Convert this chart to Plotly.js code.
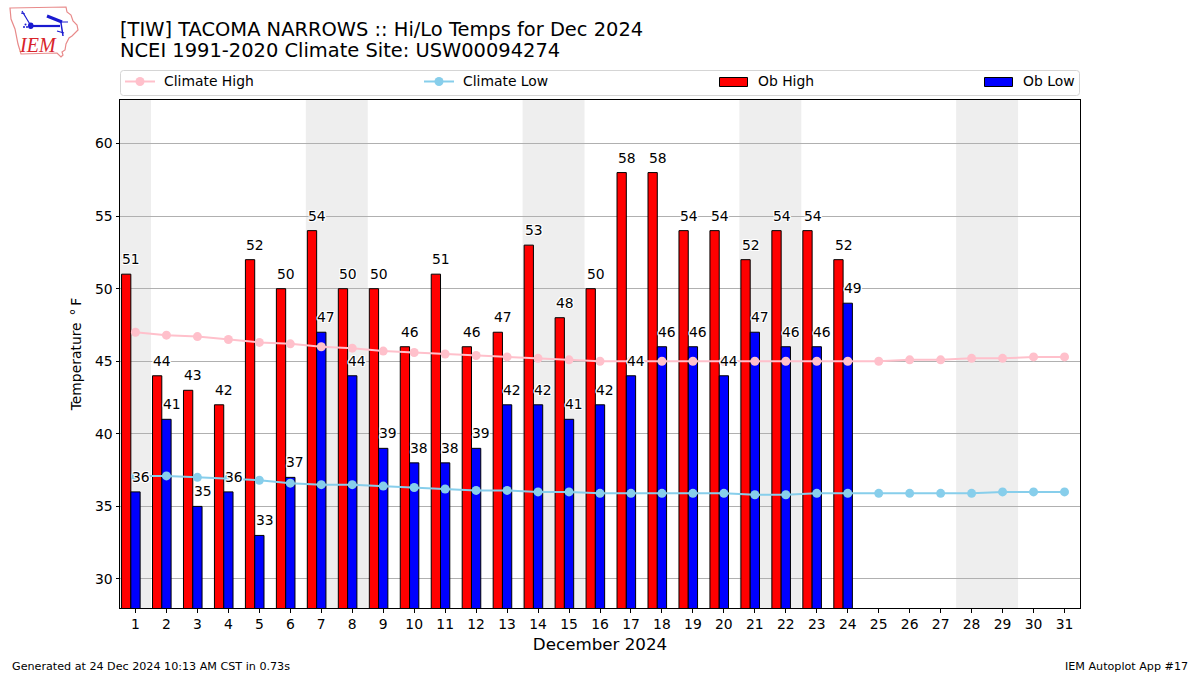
<!DOCTYPE html>
<html>
<head>
<meta charset="utf-8">
<script src="https://cdn.plot.ly/plotly-3.0.1.min.js"></script>
<style>html,body{margin:0;padding:0;background:#fff}</style>
</head>
<body>
<div id="chart" style="width:1200px;height:675px"></div>
<script>
const days = [1,2,3,4,5,6,7,8,9,10,11,12,13,14,15,16,17,18,19,20,21,22,23,24,25,26,27,28,29,30,31];
const obDays = days.slice(0,24);
const obHigh = [51,44,43,42,52,50,54,50,50,46,51,46,47,53,48,50,58,58,54,54,52,54,54,52];
const obLow  = [36,41,35,36,33,37,47,44,39,38,38,39,42,42,41,42,44,46,46,44,47,46,46,49];
const climateHigh = [47,46.8,46.7,46.5,46.3,46.2,46,45.9,45.7,45.6,45.5,45.4,45.3,45.2,45.1,45,45,45,45,45,45,45,45,45,45,45.1,45.1,45.2,45.2,45.3,45.3];
const climateLow  = [37.1,37.1,37,36.9,36.8,36.6,36.5,36.5,36.4,36.3,36.2,36.1,36.1,36,36,35.9,35.9,35.9,35.9,35.9,35.8,35.8,35.9,35.9,35.9,35.9,35.9,35.9,36,36,36];
const weekendBands = [[0.5,1.5],[6.5,8.5],[13.5,15.5],[20.5,22.5],[27.5,29.5]];
const yTicks = [30,35,40,45,50,55,60];

const W = 1200, H = 675;
const FONT = 'DejaVu Sans, sans-serif';
// paper coordinates: plot area spans x 120..1080, y 100..608
const X = x => (x - 120) / 960;
const Y = y => (608 - y) / 508;
const path = pts => pts.map((p,i) => (i ? 'L' : 'M') + X(p[0]).toFixed(5) + ',' + Y(p[1]).toFixed(5)).join(' ');

const halo = '-1px 0 0 #fff,1px 0 0 #fff,0 -1px 0 #fff,0 1px 0 #fff,-1px -1px 0 #fff,1px 1px 0 #fff,-1px 1px 0 #fff,1px -1px 0 #fff';

const traces = [
  {type:'bar', x:obDays, y:obHigh, name:'Ob High', width:0.3, offset:-0.45, marker:{color:'#ff0000', line:{color:'#000', width:1}}, hoverinfo:'x+y'},
  {type:'bar', x:obDays, y:obLow, name:'Ob Low', width:0.3, offset:-0.15, marker:{color:'#0000ff', line:{color:'#000', width:1}}, hoverinfo:'x+y'},
  {type:'scatter', mode:'lines+markers', x:days, y:climateHigh, name:'Climate High', line:{color:'#ffc0cb', width:2}, marker:{color:'#ffc0cb', size:9}},
  {type:'scatter', mode:'lines+markers', x:days, y:climateLow, name:'Climate Low', line:{color:'#87ceeb', width:2}, marker:{color:'#87ceeb', size:9}}
];

const shapes = weekendBands.map(b => ({type:'rect', layer:'below', xref:'x', yref:'paper', x0:b[0], x1:b[1], y0:0, y1:1, fillcolor:'#eeeeee', line:{width:0}}));

// legend frame
const lg = {l:120.5, r:1079.5, t:70.5, b:95.5, c:3};
shapes.push({type:'path', xref:'paper', yref:'paper', layer:'above', line:{color:'#d5d5d5', width:1}, fillcolor:'rgba(255,255,255,0)',
  path:`M${X(lg.l+lg.c)},${Y(lg.t)} L${X(lg.r-lg.c)},${Y(lg.t)} Q${X(lg.r)},${Y(lg.t)} ${X(lg.r)},${Y(lg.t+lg.c)} L${X(lg.r)},${Y(lg.b-lg.c)} Q${X(lg.r)},${Y(lg.b)} ${X(lg.r-lg.c)},${Y(lg.b)} L${X(lg.l+lg.c)},${Y(lg.b)} Q${X(lg.l)},${Y(lg.b)} ${X(lg.l)},${Y(lg.b-lg.c)} L${X(lg.l)},${Y(lg.t+lg.c)} Q${X(lg.l)},${Y(lg.t)} ${X(lg.l+lg.c)},${Y(lg.t)} Z`});
// legend swatches
[[125,155,'#ffc0cb'],[424,454,'#87ceeb']].forEach(s => {
  shapes.push({type:'line', xref:'paper', yref:'paper', x0:X(s[0]), x1:X(s[1]), y0:Y(81.5), y1:Y(81.5), line:{color:s[2], width:2}});
  const cx = (s[0]+s[1])/2;
  shapes.push({type:'circle', xref:'paper', yref:'paper', x0:X(cx-4.5), x1:X(cx+4.5), y0:Y(86), y1:Y(77), fillcolor:s[2], line:{color:s[2], width:0}});
});
[[719.5,747.5,'#ff0000'],[984.5,1012.5,'#0000ff']].forEach(s => {
  shapes.push({type:'rect', xref:'paper', yref:'paper', x0:X(s[0]), x1:X(s[1]), y0:Y(86.5), y1:Y(77.5), fillcolor:s[2], line:{color:'#000', width:1}});
});

// logo
shapes.push({type:'path', xref:'paper', yref:'paper', line:{color:'#e88a8a', width:1.2}, path:path([[10,8],[66,7],[67,12],[71,15],[73,21],[77,25],[78,30],[72,36],[69,38],[66,44],[65,50],[62,52],[63,55],[61,57],[57,53],[21,54],[18,44],[15,29],[11,19],[10,8]])+' Z'});
const blue = '#1a1ad0';
[[[31,26],[60,26],2.2],[[22,11],[31,26],1.2],[[47,16],[62,22],3],[[60,22],[68,22],1],[[61,23],[63,36],1.5],[[57,31],[64,33],1.2],[[21,13],[25,14],1]].forEach(l => {
  shapes.push({type:'line', xref:'paper', yref:'paper', x0:X(l[0][0]), y0:Y(l[0][1]), x1:X(l[1][0]), y1:Y(l[1][1]), line:{color:blue, width:l[2]}});
});
shapes.push({type:'circle', xref:'paper', yref:'paper', x0:X(28), x1:X(33.5), y0:Y(29), y1:Y(22.5), fillcolor:blue, line:{width:0}});
[[24,27],[27,27],[25.5,24.5]].forEach(c => shapes.push({type:'circle', xref:'paper', yref:'paper', x0:X(c[0]-1), x1:X(c[0]+1), y0:Y(c[1]+1), y1:Y(c[1]-1), fillcolor:blue, line:{width:0}}));

const dataLabel = (x, v) => ({xref:'x', yref:'y', x:x, y:v, xshift:0.5, yshift:15, text:String(v), showarrow:false, xanchor:'center', yanchor:'middle', borderpad:0,
  font:{family:FONT, size:13.9, color:'#000', shadow:halo}});
const annotations = [];
obHigh.forEach((v,i) => annotations.push(dataLabel(obDays[i]-0.15, v)));
obLow.forEach((v,i) => annotations.push(dataLabel(obDays[i]+0.15, v)));

const pageText = (x, y, text, size, anchor, family, color) => ({xref:'paper', yref:'paper', x:X(x), y:Y(y), text:text, showarrow:false, xanchor:anchor, yanchor:'middle', borderpad:0, borderwidth:0,
  font:{family:family||FONT, size:size, color:color||'#000'}});
annotations.push(pageText(120, 50.5, 'NCEI 1991-2020 Climate Site: USW00094274', 19.45, 'left'));
annotations.push(pageText(164, 81, 'Climate High', 13.9, 'left'));
annotations.push(pageText(463, 81, 'Climate Low', 13.9, 'left'));
annotations.push(pageText(758, 81, 'Ob High', 13.9, 'left'));
annotations.push(pageText(1023, 81, 'Ob Low', 13.9, 'left'));
annotations.push(pageText(12, 666, 'Generated at 24 Dec 2024 10:13 AM CST in 0.73s', 11.15, 'left'));
annotations.push(pageText(1188, 666, 'IEM Autoplot App #17', 11.15, 'right'));
annotations.push(pageText(37.5, 45, 'IEM', 20, 'center', 'Liberation Serif, serif', '#d8232a'));
annotations[annotations.length-1].font.style = 'italic';

const layout = {
  width:W, height:H, autosize:false,
  margin:{l:120, r:120, t:100, b:67, pad:0},
  paper_bgcolor:'#fff', plot_bgcolor:'#fff',
  font:{family:FONT, size:13.9, color:'#000'},
  showlegend:false, barmode:'overlay', hovermode:'closest',
  title:{text:'[TIW] TACOMA NARROWS :: Hi/Lo Temps for Dec 2024', font:{family:FONT, size:19.45, color:'#000'}, xref:'paper', x:0, xanchor:'left', yref:'container', y:1-29.5/675, yanchor:'middle', pad:{l:0,r:0,t:0,b:0}},
  xaxis:{range:[0.5,31.5], tickmode:'array', tickvals:days, ticktext:days.map(String), showgrid:false, zeroline:false,
    showline:true, mirror:true, linecolor:'#000', linewidth:1, ticks:'outside', ticklen:3.5, tickwidth:1, tickcolor:'#000', tickangle:0,
    tickfont:{family:FONT, size:13.9, color:'#000'},
    title:{text:'December 2024', font:{family:FONT, size:16.7, color:'#000'}, standoff:7}, automargin:false},
  yaxis:{range:[28,63], tickmode:'array', tickvals:yTicks, ticktext:yTicks.map(String), showgrid:true, gridcolor:'#b0b0b0', gridwidth:1, zeroline:false,
    showline:true, mirror:true, linecolor:'#000', linewidth:1, ticks:'outside', ticklen:3.5, tickwidth:1, tickcolor:'#000',
    tickfont:{family:FONT, size:13.9, color:'#000'},
    title:{text:'Temperature\u2002°\u2009F', font:{family:FONT, size:13.9, color:'#000'}, standoff:10}, automargin:false},
  shapes:shapes, annotations:annotations
};
Plotly.newPlot('chart', traces, layout, {staticPlot:true, displayModeBar:false, responsive:false});
</script>
</body>
</html>
